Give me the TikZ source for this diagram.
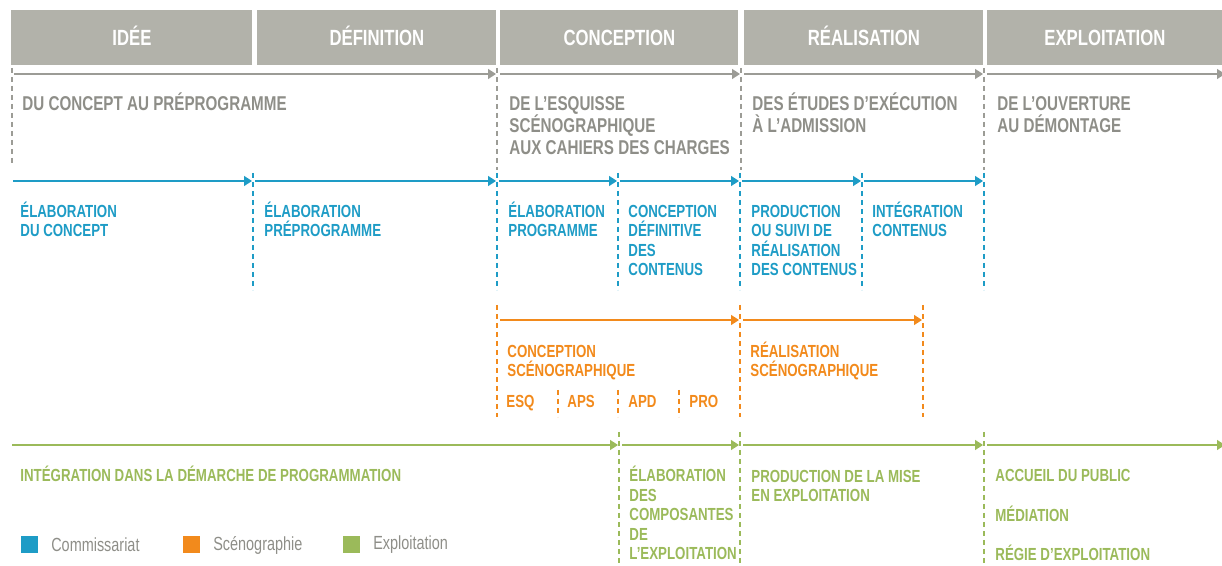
\documentclass[tikz,border=0pt]{standalone}
\usepackage{fontspec}
\setmainfont{Liberation Sans}
\newfontfamily\condfont{Liberation Sans}[FakeStretch=0.76]
\usetikzlibrary{arrows.meta, positioning}
\definecolor{phasegray}{HTML}{B2B2AA}
\definecolor{textgray}{HTML}{8E8E88}
\definecolor{linegray}{HTML}{9C9C96}
\definecolor{commblue}{HTML}{1E9CC6}
\definecolor{scenorange}{HTML}{F28A1C}
\definecolor{exploitgreen}{HTML}{9BBA5A}

\begin{document}
\begin{tikzpicture}[x=0.5pt, y=-0.5pt,
  phase/.style={fill=phasegray, text=white, inner sep=0pt, anchor=north west,
    minimum height=27.5pt, text height=8pt, text depth=0pt,
    font=\condfont\bfseries\fontsize{11}{13}\selectfont},
  stagetxt/.style={text=textgray, anchor=base west, inner sep=0pt, align=left,
    font=\condfont\bfseries\fontsize{10}{11}\selectfont},
  tasktxt/.style={anchor=base west, inner sep=0pt, align=left,
    font=\condfont\bfseries\fontsize{8.75}{9.8}\selectfont},
  timeline/.style={line width=0.75pt, -{Triangle[length=4pt, width=5pt]}},
  sep/.style={line width=0.6pt, dash pattern=on 2.5pt off 2pt},
  legendsq/.style={minimum size=8.5pt, inner sep=0pt},
  legendtxt/.style={text=textgray, inner sep=0pt, anchor=west,
    font=\condfont\fontsize{9.5}{11}\selectfont}]
\useasboundingbox (0,0) rectangle (1222,566);

\node (idee) [phase, minimum width=120.5pt] at (11,10) {IDÉE};
\node (definition) [phase, minimum width=119.5pt] at (257,10) {DÉFINITION};
\node (conception) [phase, minimum width=119pt] at (500,10) {CONCEPTION};
\node (realisation) [phase, minimum width=119.5pt] at (744,10) {RÉALISATION};
\node (exploitation) [phase, minimum width=117.5pt] at (987,10) {EXPLOITATION};

% gray timeline
\coordinate (g0) at (14,74);
\coordinate (g1) at (496,74);
\coordinate (g2) at (500,74);
\coordinate (g3) at (740,74);
\coordinate (g4) at (744,74);
\coordinate (g5) at (983,74);
\coordinate (g6) at (987,74);
\coordinate (g7) at (1225,74);
\draw[timeline, linegray] (g0) -- (g1);
\draw[timeline, linegray] (g2) -- (g3);
\draw[timeline, linegray] (g4) -- (g5);
\draw[timeline, linegray] (g6) -- (g7);
\foreach \x/\b in {12/165, 497/170, 741/170, 984/170}
  \draw[sep, linegray] (\x,68) -- (\x,\b);

% base = last line
\node (concept) [stagetxt] at (22,111) {DU CONCEPT AU PRÉPROGRAMME};
\node (esquisse) [stagetxt] at (509,155) {DE L’ESQUISSE\\SCÉNOGRAPHIQUE\\AUX CAHIERS DES CHARGES};
\node (etudes) [stagetxt] at (752,133) {DES ÉTUDES D’EXÉCUTION\\À L’ADMISSION};
\node (ouverture) [stagetxt] at (997,133) {DE L’OUVERTURE\\AU DÉMONTAGE};

% commissariat
\coordinate (b0) at (13,181);
\coordinate (b1) at (252,181);
\coordinate (b2) at (255,181);
\coordinate (b3) at (496,181);
\coordinate (b4) at (499,181);
\coordinate (b5) at (617,181);
\coordinate (b6) at (620,181);
\coordinate (b7) at (739,181);
\coordinate (b8) at (742,181);
\coordinate (b9) at (861,181);
\coordinate (b10) at (864,181);
\coordinate (b11) at (983,181);
\draw[timeline, commblue] (b0) -- (b1);
\draw[timeline, commblue] (b2) -- (b3);
\draw[timeline, commblue] (b4) -- (b5);
\draw[timeline, commblue] (b6) -- (b7);
\draw[timeline, commblue] (b8) -- (b9);
\draw[timeline, commblue] (b10) -- (b11);
\foreach \x in {253, 497, 618, 740, 862, 984}
  \draw[sep, commblue] (\x,173) -- (\x,290);

\node (elabconcept) [tasktxt, text=commblue] at (20,237) {ÉLABORATION\\DU CONCEPT};
\node (elabpreprog) [tasktxt, text=commblue] at (264,237) {ÉLABORATION\\PRÉPROGRAMME};
\node (elabprog) [tasktxt, text=commblue] at (508,237) {ÉLABORATION\\PROGRAMME};
\node (concdef) [tasktxt, text=commblue] at (628,276) {CONCEPTION\\DÉFINITIVE\\DES\\CONTENUS};
\node (prodcont) [tasktxt, text=commblue] at (751,276) {PRODUCTION\\OU SUIVI DE\\RÉALISATION\\DES CONTENUS};
\node (integcont) [tasktxt, text=commblue] at (872,237) {INTÉGRATION\\CONTENUS};

% scenographie
\coordinate (o0) at (500,320);
\coordinate (o1) at (739,320);
\coordinate (o2) at (743,320);
\coordinate (o3) at (922,320);
\draw[timeline, scenorange] (o0) -- (o1);
\draw[timeline, scenorange] (o2) -- (o3);
\foreach \x in {497, 740, 923}
  \draw[sep, scenorange] (\x,305) -- (\x,417);
\foreach \x in {558, 618, 679}
  \draw[sep, scenorange] (\x,390) -- (\x,417);

\node (concscen) [tasktxt, text=scenorange] at (507,377) {CONCEPTION\\SCÉNOGRAPHIQUE};
\node (realscen) [tasktxt, text=scenorange] at (750,377) {RÉALISATION\\SCÉNOGRAPHIQUE};
\node (esq) [tasktxt, text=scenorange] at (506,408) {ESQ};
\node (aps) [tasktxt, text=scenorange] at (567,408) {APS};
\node (apd) [tasktxt, text=scenorange] at (628,408) {APD};
\node (pro) [tasktxt, text=scenorange] at (689,408) {PRO};

% exploitation
\coordinate (e0) at (12,445);
\coordinate (e1) at (618,445);
\coordinate (e2) at (622,445);
\coordinate (e3) at (739,445);
\coordinate (e4) at (743,445);
\coordinate (e5) at (983,445);
\coordinate (e6) at (987,445);
\coordinate (e7) at (1225,445);
\draw[timeline, exploitgreen] (e0) -- (e1);
\draw[timeline, exploitgreen] (e2) -- (e3);
\draw[timeline, exploitgreen] (e4) -- (e5);
\draw[timeline, exploitgreen] (e6) -- (e7);
\foreach \x in {619, 740, 984}
  \draw[sep, exploitgreen] (\x,432) -- (\x,566);

\node (integprog) [tasktxt, text=exploitgreen] at (20,482) {INTÉGRATION DANS LA DÉMARCHE DE PROGRAMMATION};
\node (elabcomp) [tasktxt, text=exploitgreen] at (629,560) {ÉLABORATION\\DES\\COMPOSANTES\\DE\\L’EXPLOITATION};
\node (prodmise) [tasktxt, text=exploitgreen] at (751,502) {PRODUCTION DE LA MISE\\EN EXPLOITATION};
\node (accueil) [tasktxt, text=exploitgreen] at (995,482) {ACCUEIL DU PUBLIC};
\node (mediation) [tasktxt, text=exploitgreen] at (995,522) {MÉDIATION};
\node (regie) [tasktxt, text=exploitgreen] at (995,561) {RÉGIE D’EXPLOITATION};

% legend
\node (commsq) [legendsq, fill=commblue] at (29,545) {};
\node (commlbl) [legendtxt, right=6.5pt of commsq] {Commissariat};
\node (scensq) [legendsq, fill=scenorange] at (191,545) {};
\node (scenlbl) [legendtxt, right=6.5pt of scensq] {Scénographie};
\node (exploitsq) [legendsq, fill=exploitgreen] at (351,545) {};
\node (exploitlbl) [legendtxt, right=6.5pt of exploitsq] {Exploitation};
\end{tikzpicture}
\end{document}
